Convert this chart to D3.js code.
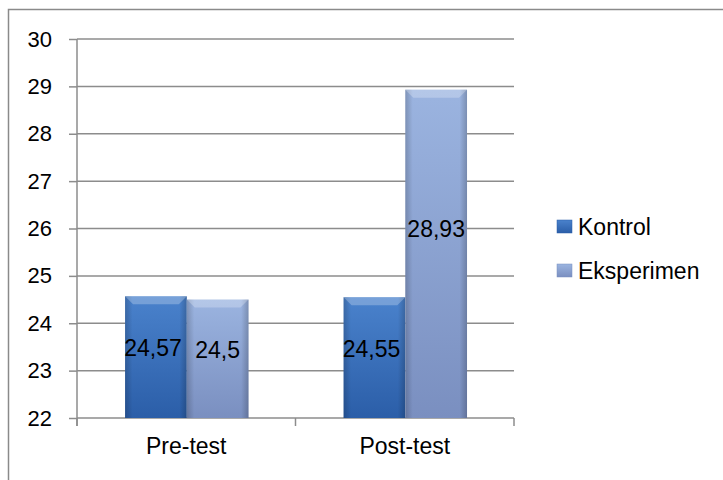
<!DOCTYPE html>
<html>
<head>
<meta charset="utf-8">
<script src="https://cdn.jsdelivr.net/npm/d3@7"></script>
<style>
  body { margin: 0; background: #fff; }
  text { font-family: "Liberation Sans", "DejaVu Sans", sans-serif; fill: #000; }
</style>
</head>
<body>
<div class="chart"></div>
<script>
// DATA
const CATEGORIES = ["Pre-test", "Post-test"];
const SERIES = ["Kontrol", "Eksperimen"];
const KONTROL = [24.57, 24.55];
const EKSPERIMEN = [24.5, 28.93];
const LABELS_KONTROL = ["24,57", "24,55"];
const LABELS_EKSPERIMEN = ["24,5", "28,93"];
const Y_TICKS = [22, 23, 24, 25, 26, 27, 28, 29, 30];

// GLOBAL CONSTANTS
const FRAME_WIDTH = 723;
const FRAME_HEIGHT = 480;
const PLOT = {left: 77, right: 514, top: 39, bottom: 418};
const LABEL_FRAC = 0.575; // label sits a bit above the middle of the bar

const COLORS = {Kontrol: ["#4a82cc", "#2b5ea8"], Eksperimen: ["#9bb4e0", "#7a8fc0"]};

const svg = d3.select(".chart")
  .append("svg")
    .attr("width", FRAME_WIDTH)
    .attr("height", FRAME_HEIGHT);

// gradients for the bars and legend
const defs = svg.append("defs");
SERIES.forEach((s) => {
  const g = defs.append("linearGradient")
    .attr("id", "grad-" + s)
    .attr("x1", 0).attr("y1", 0).attr("x2", 0).attr("y2", 1);
  g.append("stop").attr("offset", "0%").attr("stop-color", COLORS[s][0]);
  g.append("stop").attr("offset", "100%").attr("stop-color", COLORS[s][1]);
  const h = defs.append("linearGradient")
    .attr("id", "side-" + s)
    .attr("x1", 0).attr("y1", 0).attr("x2", 1).attr("y2", 0);
  h.append("stop").attr("offset", "0%").attr("stop-color", "#000").attr("stop-opacity", 0.18);
  h.append("stop").attr("offset", "12%").attr("stop-color", "#000").attr("stop-opacity", 0);
  h.append("stop").attr("offset", "88%").attr("stop-color", "#000").attr("stop-opacity", 0);
  h.append("stop").attr("offset", "100%").attr("stop-color", "#000").attr("stop-opacity", 0.2);
});

// outer frame
svg.append("rect")
  .attr("x", 8.5).attr("y", 9.5)
  .attr("width", FRAME_WIDTH).attr("height", FRAME_HEIGHT)
  .attr("fill", "none")
  .attr("stroke", "#8a8a8a")
  .attr("stroke-width", 1.5);

// SCALES
const Y_SCALE = d3.scaleLinear()
  .domain([22, 30])
  .range([PLOT.bottom, PLOT.top]);

const X_SCALE = d3.scaleBand()
  .domain(CATEGORIES)
  .range([PLOT.left, PLOT.right])
  .padding(0);

const bw = X_SCALE.bandwidth();
const X_INNER = d3.scaleBand()
  .domain(SERIES)
  .range([bw * 0.22, bw * 0.785])
  .padding(0);

// GRIDLINES + Y AXIS
svg.append("g")
  .attr("transform", "translate(" + PLOT.left + ",0)")
  .call(d3.axisLeft(Y_SCALE)
    .tickValues(Y_TICKS)
    .tickSize(8)
    .tickFormat(d3.format("d")))
  .call((g) => g.select(".domain").remove())
  .call((g) => g.selectAll(".tick line").attr("stroke", "#8c8c8c").attr("stroke-width", 1.5))
  .call((g) => g.selectAll(".tick text")
    .attr("x", -25)
    .attr("font-size", "22px")
    .attr("font-family", "Liberation Sans, sans-serif"));

svg.append("g")
  .selectAll("line")
  .data(Y_TICKS)
  .enter()
  .append("line")
    .attr("x1", PLOT.left)
    .attr("x2", PLOT.right)
    .attr("y1", (d) => Y_SCALE(d))
    .attr("y2", (d) => Y_SCALE(d))
    .attr("stroke", "#8c8c8c")
    .attr("stroke-width", 1.5);

// vertical axis line
svg.append("line")
  .attr("x1", PLOT.left).attr("x2", PLOT.left)
  .attr("y1", PLOT.top).attr("y2", PLOT.bottom + 8)
  .attr("stroke", "#8c8c8c")
  .attr("stroke-width", 1.5);

// X AXIS
svg.append("g")
  .attr("transform", "translate(0," + PLOT.bottom + ")")
  .call(d3.axisBottom(X_SCALE).tickSize(0).tickPadding(20))
  .call((g) => g.select(".domain").remove())
  .call((g) => g.selectAll(".tick text")
    .attr("font-size", "23px")
    .attr("font-family", "Liberation Sans, sans-serif"));

// category boundary ticks
svg.append("g")
  .selectAll("line")
  .data(CATEGORIES.concat(["end"]))
  .enter()
  .append("line")
    .attr("x1", (d) => d === "end" ? PLOT.right : X_SCALE(d))
    .attr("x2", (d) => d === "end" ? PLOT.right : X_SCALE(d))
    .attr("y1", PLOT.bottom)
    .attr("y2", PLOT.bottom + 8)
    .attr("stroke", "#8c8c8c")
    .attr("stroke-width", 1.5);

// BARS
const rows = [];
CATEGORIES.forEach((c, i) => {
  rows.push({cat: c, series: "Kontrol", value: KONTROL[i], label: LABELS_KONTROL[i]});
  rows.push({cat: c, series: "Eksperimen", value: EKSPERIMEN[i], label: LABELS_EKSPERIMEN[i]});
});

const bars = svg.append("g")
  .selectAll("g")
  .data(rows)
  .enter()
  .append("g")
    .attr("transform", (d) => "translate(" + (X_SCALE(d.cat) + X_INNER(d.series)) + "," + Y_SCALE(d.value) + ")");

bars.append("rect")
  .attr("width", X_INNER.bandwidth())
  .attr("height", (d) => PLOT.bottom - Y_SCALE(d.value))
  .attr("fill", (d) => "url(#grad-" + d.series + ")");

bars.append("rect")
  .attr("width", X_INNER.bandwidth())
  .attr("height", (d) => PLOT.bottom - Y_SCALE(d.value))
  .attr("fill", (d) => "url(#side-" + d.series + ")");

// top bevel highlight
bars.append("path")
  .attr("d", () => {
    const w = X_INNER.bandwidth();
    return "M0,0 L" + w + ",0 L" + (w - 8) + ",8 L8,8 Z";
  })
  .attr("fill", "#ffffff")
  .attr("opacity", 0.25);

// DATA LABELS
bars.append("text")
  .attr("x", (d) => d.series === "Kontrol" ? X_INNER.bandwidth() / 2 - 3 : X_INNER.bandwidth() / 2)
  .attr("y", (d) => (PLOT.bottom - Y_SCALE(d.value)) * (1 - LABEL_FRAC))
  .attr("dy", "0.35em")
  .attr("text-anchor", "middle")
  .attr("font-size", "23px")
  .text((d) => d.label);

// LEGEND
const legend = svg.append("g")
  .selectAll("g")
  .data(SERIES)
  .enter()
  .append("g")
    .attr("transform", (d, i) => "translate(557," + (220 + i * 44) + ")");

legend.append("rect")
  .attr("width", 15)
  .attr("height", 13)
  .attr("fill", (d) => "url(#grad-" + d + ")")
  .attr("stroke", (d) => COLORS[d][1])
  .attr("stroke-width", 0.5);

legend.append("text")
  .attr("x", 21)
  .attr("y", 6.5)
  .attr("dy", "0.36em")
  .attr("font-size", "23px")
  .text((d) => d);
</script>
</body>
</html>
